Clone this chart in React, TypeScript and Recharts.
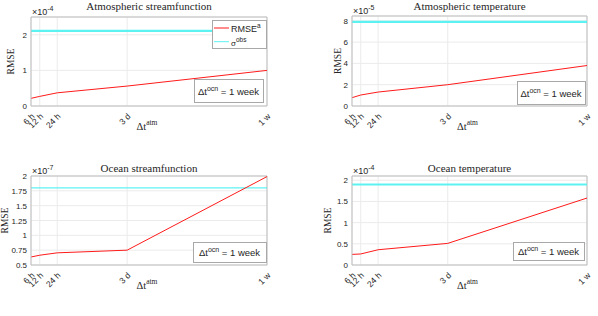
import React from "react";
import {
  LineChart,
  Line,
  XAxis,
  YAxis,
  CartesianGrid,
  ReferenceLine,
} from "recharts";

const TEXT = "#262626";
const AXIS = "#bdbdbd";
const GRID = "#ebebeb";
const SANS = '"Liberation Sans", Arial, Helvetica, sans-serif';
const SERIF = '"Liberation Serif", "Times New Roman", serif';

// coupling step Δt^atm, in hours
const stepHours = [6, 12, 24, 72, 168];
const stepLabels = ["6 h", "12 h", "24 h", "3 d", "1 w"];

// RMSE^a, in units of 10^exponent
const atmStreamRmse = [0.215, 0.27, 0.37, 0.56, 1.0];
const atmTempRmse = [0.78, 1.03, 1.31, 2.0, 3.8];
const ocnStreamRmse = [0.635, 0.665, 0.705, 0.75, 1.99];
const ocnTempRmse = [0.25, 0.26, 0.36, 0.51, 1.58];

const titles = [
  "Atmospheric streamfunction",
  "Atmospheric temperature",
  "Ocean streamfunction",
  "Ocean temperature",
];
const rmseSeries = [atmStreamRmse, atmTempRmse, ocnStreamRmse, ocnTempRmse];
const sigmaObs = [2.11, 7.9, 1.8, 1.9];
const exponents = ["-4", "-5", "-7", "-4"];
const yDomains = [
  [0, 2.5],
  [0, 8.45],
  [0.5, 2],
  [0, 2.1],
];
const yTicks = [
  [0, 1, 2],
  [0, 2, 4, 6, 8],
  [0.5, 0.75, 1, 1.25, 1.5, 1.75, 2],
  [0, 0.5, 1, 1.5, 2],
];

// layout (pixels)
const plotBoxes = [
  { x: 31, y: 17, w: 236, h: 89 },
  { x: 352, y: 16, w: 235, h: 90 },
  { x: 31, y: 176, w: 236, h: 89 },
  { x: 352, y: 176, w: 235, h: 89 },
];
const titleBase = [10, 10, 172, 171.5];
const ylabelX = [13.6, 340.7, 8.2, 331.3];
const noteBoxes = [
  { x: 194, y: 79, w: 69, h: 23 },
  { x: 517, y: 81, w: 68, h: 23 },
  { x: 193, y: 242, w: 73, h: 20 },
  { x: 513, y: 242, w: 71, h: 18 },
];
const sigmaWidth = [2.2, 2.2, 1.2, 2];

const L = 40;
const T = 10;
const R = 10;
const B = 40;

function YTick(props: any) {
  const { x, y, payload } = props;
  return (
    <text
      x={x - 4}
      y={y}
      dy={3}
      textAnchor="end"
      fontSize={8}
      fontFamily={SANS}
      fill={TEXT}
    >
      {String(payload.value)}
    </text>
  );
}

function XTick(props: any) {
  const { x, y, payload } = props;
  const i = stepHours.indexOf(payload.value);
  const ax = x + 4;
  const ay = y + 11;
  return (
    <text
      x={ax}
      y={ay}
      textAnchor="end"
      fontSize={8.5}
      fontFamily={SANS}
      fill={TEXT}
      transform={`rotate(-45 ${ax} ${ay})`}
    >
      {stepLabels[i]}
    </text>
  );
}

function Panel({ idx }: { idx: number }) {
  const box = plotBoxes[idx];
  const dom = yDomains[idx];
  const data = stepHours.map((h, i) => ({ h, rmse: rmseSeries[idx][i] }));
  return (
    <div style={{ position: "absolute", left: box.x - L, top: box.y - T }}>
      <LineChart
        width={box.w + L + R}
        height={box.h + T + B}
        data={data}
        margin={{ top: T, right: R, bottom: 0, left: 0 }}
      >
        <CartesianGrid stroke={GRID} />
        <XAxis
          dataKey="h"
          type="number"
          domain={[6, 168]}
          ticks={stepHours}
          interval={0}
          height={B}
          tickLine={false}
          tickSize={0}
          tickMargin={0}
          axisLine={{ stroke: AXIS }}
          tick={<XTick />}
        />
        <YAxis
          type="number"
          domain={dom}
          ticks={yTicks[idx]}
          interval={0}
          width={L}
          tickLine={false}
          tickSize={0}
          tickMargin={0}
          axisLine={{ stroke: AXIS }}
          tick={<YTick />}
        />
        <ReferenceLine y={dom[1]} stroke={AXIS} />
        <ReferenceLine x={168} stroke={AXIS} />
        <ReferenceLine
          y={sigmaObs[idx]}
          stroke="#5cf2f2"
          strokeWidth={sigmaWidth[idx]}
        />
        <Line
          dataKey="rmse"
          type="linear"
          stroke="#ff1a1a"
          strokeWidth={1}
          dot={false}
          isAnimationActive={false}
        />
      </LineChart>
    </div>
  );
}

function Labels({ idx }: { idx: number }) {
  const box = plotBoxes[idx];
  const cx = box.x + box.w / 2;
  const cy = box.y + box.h / 2;
  const nb = noteBoxes[idx];
  return (
    <g>
      <text
        x={cx}
        y={titleBase[idx]}
        textAnchor="middle"
        fontSize={11}
        fontFamily={SERIF}
        fill={TEXT}
      >
        {titles[idx]}
      </text>
      <text x={box.x + 1} y={box.y - 2} fontSize={9} fontFamily={SANS} fill={TEXT}>
        ×10
        <tspan dy={-4} fontSize={7}>
          {exponents[idx]}
        </tspan>
      </text>
      <text
        transform={`translate(${ylabelX[idx]} ${cy}) rotate(-90)`}
        textAnchor="middle"
        fontSize={9.5}
        fontFamily={SERIF}
        fill={TEXT}
      >
        RMSE
      </text>
      <text
        x={cx - 2}
        y={box.y + box.h + 24}
        textAnchor="middle"
        fontSize={10.5}
        fontFamily={SERIF}
        fill={TEXT}
      >
        Δt
        <tspan dy={-5} fontSize={7.5}>
          atm
        </tspan>
      </text>
      <rect
        x={nb.x + 0.5}
        y={nb.y + 0.5}
        width={nb.w}
        height={nb.h}
        fill="#fff"
        stroke="#a8a8a8"
      />
      <text
        x={nb.x + nb.w / 2}
        y={nb.y + nb.h / 2 + 4}
        textAnchor="middle"
        fontSize={9.5}
        fontFamily={SANS}
        fill={TEXT}
      >
        Δt
        <tspan dy={-4} fontSize={7}>
          ocn
        </tspan>
        <tspan dy={4}> = 1 week</tspan>
      </text>
    </g>
  );
}

function LegendBox() {
  return (
    <g>
      <rect x={212.5} y={20.5} width={54} height={28} fill="#fff" stroke="#a8a8a8" />
      <line x1={214} x2={229} y1={28} y2={28} stroke="#ff1a1a" strokeWidth={1} />
      <text x={231} y={31.7} fontSize={9} fontFamily={SANS} fill={TEXT}>
        RMSE
        <tspan dy={-4} fontSize={6.5}>
          a
        </tspan>
      </text>
      <line x1={214} x2={229} y1={41.7} y2={41.7} stroke="#5cf2f2" strokeWidth={1} />
      <text x={231} y={46} fontSize={8} fontFamily={SANS} fill={TEXT}>
        σ
        <tspan dy={-4.5} fontSize={6.5}>
          obs
        </tspan>
      </text>
    </g>
  );
}

export default function App() {
  return (
    <div
      style={{
        position: "absolute",
        left: 0,
        top: 0,
        width: 598,
        height: 316,
        background: "#fff",
        overflow: "hidden",
      }}
    >
      {[0, 1, 2, 3].map((i) => (
        <Panel key={i} idx={i} />
      ))}
      <svg
        width={598}
        height={316}
        style={{ position: "absolute", left: 0, top: 0, pointerEvents: "none" }}
      >
        {[0, 1, 2, 3].map((i) => (
          <Labels key={i} idx={i} />
        ))}
        <LegendBox />
      </svg>
    </div>
  );
}
